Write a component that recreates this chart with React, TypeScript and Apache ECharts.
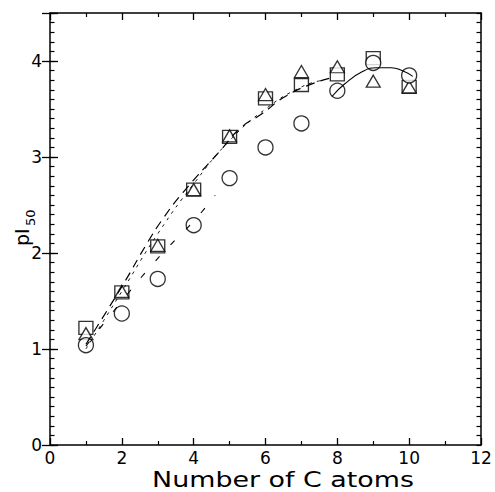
import React, { useEffect, useRef } from "react";
import * as echarts from "echarts";

// Measured pI50 values vs number of C atoms
const carbons = [1, 2, 3, 4, 5, 6, 7, 8, 9, 10];
const circleValues = [1.04, 1.37, 1.73, 2.29, 2.78, 3.1, 3.35, 3.69, 3.98, 3.85];
const squareValues = [1.22, 1.59, 2.07, 2.66, 3.21, 3.61, 3.75, 3.86, 4.03, 3.73];
const triangleValues = [1.16, 1.6, 2.08, 2.66, 3.22, 3.65, 3.89, 3.94, 3.79, 3.73];

// Fitted curves, points [x, y]
const fitSquares: number[][] = [
  [1, 1.05], [2, 1.65], [2.7, 2.1], [3.15, 2.36], [3.7, 2.63], [4.75, 3.07],
  [5.3, 3.3], [5.9, 3.45], [6.55, 3.63], [7.35, 3.77], [7.9, 3.83],
];
const fitTriangles: number[][] = [
  [1, 1.0], [1.5, 1.3], [2, 1.6], [3, 2.2], [4, 2.72], [5, 3.17],
  [6, 3.5], [7, 3.73], [7.6, 3.8],
];
const fitCirclesDashed: number[][] = [
  [1, 1.03], [2, 1.5], [2.85, 1.88], [3.55, 2.16], [4.0, 2.33], [4.6, 2.6],
];
const fitCirclesSolid: number[][] = [
  [7.85, 3.63], [8.2, 3.76], [8.7, 3.89], [9.1, 3.93], [9.5, 3.93], [9.8, 3.9], [10.1, 3.84],
];

const xRange = [0, 12];
const yRange = [0, 4.5];
const xTitle = "Number of C atoms";
const yTitleMain = "pI";
const yTitleSub = "50";

const FONT = "'DejaVu Sans', sans-serif";

function pairs(ys: number[]) {
  return carbons.map((c, i) => [c, ys[i]]);
}

export default function App() {
  const ref = useRef<HTMLDivElement>(null);
  useEffect(() => {
    if (!ref.current) return;
    const chart = echarts.init(ref.current, undefined, { renderer: "svg" });
    const axisLine = { show: true, onZero: false, lineStyle: { color: "#000", width: 1.5 } };
    const xCommon = {
      type: "value" as const,
      min: xRange[0],
      max: xRange[1],
      interval: 2,
      axisLine,
      axisTick: { show: true, inside: true, length: 7, lineStyle: { color: "#000", width: 1.3 } },
      minorTick: { show: true, splitNumber: 2, length: 4, lineStyle: { color: "#000", width: 1.2 } },
      splitLine: { show: false },
      minorSplitLine: { show: false },
    };
    const yFine = {
      type: "value" as const,
      min: yRange[0],
      max: yRange[1],
      interval: 0.5,
      axisLine,
      axisTick: { show: true, inside: true, length: 4.5, lineStyle: { color: "#000", width: 1.2 } },
      minorTick: { show: true, splitNumber: 5, length: 4.5, lineStyle: { color: "#000", width: 1.2 } },
      splitLine: { show: false },
    };
    const yMajor = {
      type: "value" as const,
      min: yRange[0],
      max: yRange[1],
      interval: 1,
      axisLine: { show: false },
      axisTick: { show: true, inside: true, length: 8, lineStyle: { color: "#000", width: 1.3 } },
      axisLabel: { show: false },
      splitLine: { show: false },
    };
    const markerStyle = { color: "#fff", borderColor: "#000", borderWidth: 1.3 };
    chart.setOption({
      animation: false,
      backgroundColor: "#fff",
      grid: { left: 50, right: 14, top: 13, bottom: 47 },
      xAxis: [
        {
          ...xCommon,
          position: "bottom",
          axisLabel: { color: "#000", fontSize: 17, fontFamily: FONT, margin: 4 },
        },
        { ...xCommon, position: "top", axisLabel: { show: false } },
      ],
      yAxis: [
        {
          ...yFine,
          position: "left",
          axisLabel: {
            color: "#000",
            fontSize: 17,
            fontFamily: FONT,
            margin: 8,
            formatter: (v: number) => (Math.abs(v - Math.round(v)) < 1e-6 && v <= 4 ? String(Math.round(v)) : ""),
          },
        },
        { ...yMajor, position: "left" },
        { ...yFine, position: "right", axisLabel: { show: false } },
        { ...yMajor, position: "right" },
      ],
      series: [
        {
          type: "line",
          data: fitSquares,
          smooth: true,
          showSymbol: false,
          silent: true,
          lineStyle: { color: "#000", width: 1.2, type: [9, 6] },
        },
        {
          type: "line",
          data: fitTriangles,
          smooth: true,
          showSymbol: false,
          silent: true,
          lineStyle: { color: "#000", width: 0.9, type: [3, 5] },
        },
        {
          type: "line",
          data: fitCirclesDashed,
          smooth: true,
          showSymbol: false,
          silent: true,
          lineStyle: { color: "#000", width: 1.1, type: [6, 16] },
        },
        {
          type: "line",
          data: fitCirclesSolid,
          smooth: true,
          showSymbol: false,
          silent: true,
          lineStyle: { color: "#000", width: 1.1 },
        },
        {
          type: "scatter",
          data: pairs(squareValues),
          symbol: "rect",
          symbolSize: [14, 13],
          itemStyle: markerStyle,
        },
        {
          type: "scatter",
          data: pairs(triangleValues),
          symbol: "triangle",
          symbolSize: [14, 12],
          itemStyle: markerStyle,
        },
        {
          type: "scatter",
          data: pairs(circleValues),
          symbol: "circle",
          symbolSize: 15,
          itemStyle: markerStyle,
        },
      ],
      graphic: [
        {
          type: "text",
          x: 283,
          y: 480,
          scaleX: 1.28,
          style: {
            text: xTitle,
            fontSize: 21,
            fontFamily: FONT,
            fill: "#000",
            align: "center",
            verticalAlign: "middle",
          },
        },
        {
          type: "group",
          x: 22,
          y: 246,
          rotation: Math.PI / 2,
          children: [
            {
              type: "text",
              x: 0,
              y: 0,
              style: {
                text: yTitleMain,
                fontSize: 19,
                fontFamily: FONT,
                fill: "#000",
                align: "left",
                verticalAlign: "middle",
              },
            },
            {
              type: "text",
              x: 20,
              y: 8,
              style: {
                text: yTitleSub,
                fontSize: 13,
                fontFamily: FONT,
                fill: "#000",
                align: "left",
                verticalAlign: "middle",
              },
            },
          ],
        },
      ],
    });
    return () => chart.dispose();
  }, []);
  return (
    <div
      ref={ref}
      style={{ position: "fixed", left: 0, top: 0, width: 495, height: 492 }}
    />
  );
}
